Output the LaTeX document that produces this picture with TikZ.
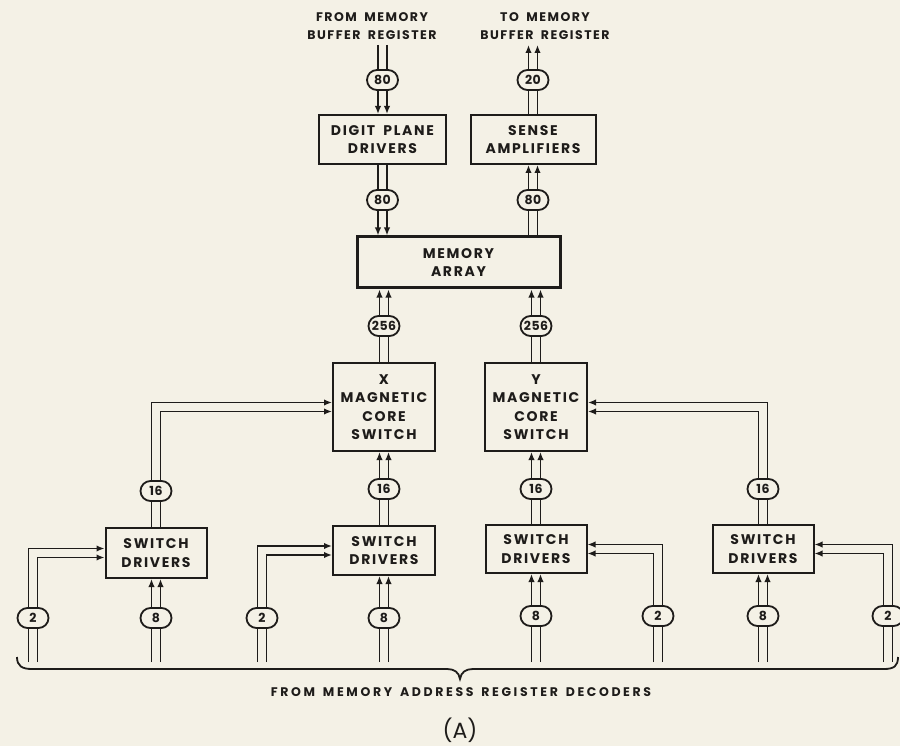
\documentclass[tikz,border=0pt]{standalone}
\usepackage{fontspec}
\newfontfamily\lbl[LetterSpace=12,WordSpace=1.8]{Poppins}
\newfontfamily\lblb[LetterSpace=4]{Poppins}
\newfontfamily\lblc[LetterSpace=21,WordSpace=1.5]{Poppins}
\usetikzlibrary{arrows.meta,shapes.misc}
\definecolor{bg}{RGB}{244,241,230}
\definecolor{ink}{RGB}{30,28,26}
\begin{document}
\begin{tikzpicture}[x=1pt,y=-1pt,
  box/.style={draw=ink,line width=2pt,fill=bg,align=center,inner sep=0pt,text=ink,
    font=\lbl\bfseries\fontsize{14}{18.5}\selectfont},
  lbltxt/.style={align=center,inner sep=0pt,text=ink,font=\lbl\bfseries\fontsize{12.5}{18}\selectfont},
  wire/.style={draw=ink,line width=1.8pt},
  arr/.style={wire,-{Latex[length=8pt,width=6.5pt]}},
  cnt/.style={rounded rectangle,draw=ink,line width=1.8pt,fill=bg,minimum width=33pt,
    minimum height=20pt,inner sep=1pt,text=ink,font=\lblb\bfseries\fontsize{12.5}{12}\selectfont}]
\fill[bg] (0,0) rectangle (900,746);
\useasboundingbox (0,0) rectangle (900,746);

% top labels
\node[lbltxt] (tfrom) at (372,26) {FROM MEMORY\\BUFFER REGISTER};
\node[lbltxt] (tto) at (545,26) {TO MEMORY\\BUFFER REGISTER};
\coordinate (fmbr) at (382.5,45);
\coordinate (tmbr) at (533,45);

% boxes
\node[box,minimum width=127,minimum height=49] (dpd) at (382.5,139.5) {DIGIT PLANE\\DRIVERS};
\node[box,minimum width=125,minimum height=49] (sa) at (533,139.5) {SENSE\\AMPLIFIERS};
\node[box,line width=3pt,minimum width=203,minimum height=51] (mem) at (458.5,262.5) {MEMORY\\ARRAY};
\node[box,minimum width=102,minimum height=88] (xs) at (384,407) {X\\MAGNETIC\\CORE\\SWITCH};
\node[box,minimum width=102,minimum height=88] (ys) at (536,407) {Y\\MAGNETIC\\CORE\\SWITCH};
\node[box,minimum width=101,minimum height=50] (sd1) at (156,553) {SWITCH\\DRIVERS};
\node[box,minimum width=102,minimum height=49] (sd2) at (384,550.5) {SWITCH\\DRIVERS};
\node[box,minimum width=101,minimum height=48] (sd3) at (536,549) {SWITCH\\DRIVERS};
\node[box,minimum width=101,minimum height=48] (sd4) at (763,549) {SWITCH\\DRIVERS};

% input free ends
\coordinate (in1a) at (33,662);
\coordinate (in1b) at (156,662);
\coordinate (in2a) at (262,662);
\coordinate (in2b) at (384,662);
\coordinate (in3b) at (536,662);
\coordinate (in3a) at (658,662);
\coordinate (in4b) at (763,662);
\coordinate (in4a) at (888,662);

% buses
\foreach \s in {-4.5,4.5}{
  \draw[arr] ([xshift=\s]fmbr) -- ([xshift=\s]dpd.north);
  \draw[arr] ([xshift=\s]dpd.south) -- ([xshift=\s]dpd.south |- mem.north);
  \draw[arr] ([xshift=\s]sa.south |- mem.north) -- ([xshift=\s]sa.south);
  \draw[arr] ([xshift=\s]sa.north) -- ([xshift=\s]tmbr);
  \draw[arr] ([xshift=\s]xs.north) -- ([xshift=\s]xs.north |- mem.south);
  \draw[arr] ([xshift=\s]ys.north) -- ([xshift=\s]ys.north |- mem.south);
  \draw[arr] ([xshift=\s]sd2.north) -- ([xshift=\s]xs.south);
  \draw[arr] ([xshift=\s]sd3.north) -- ([xshift=\s]ys.south);
  \draw[arr] ([xshift=\s]in1b) -- ([xshift=\s]sd1.south);
  \draw[arr] ([xshift=\s]in2b) -- ([xshift=\s]sd2.south);
  \draw[arr] ([xshift=\s]in3b) -- ([xshift=\s]sd3.south);
  \draw[arr] ([xshift=\s]in4b) -- ([xshift=\s]sd4.south);
  \draw[arr] ([xshift=\s]sd1.north) |- ([yshift=-\s]xs.west);
  \draw[arr] ([xshift=-\s]sd4.north) |- ([yshift=-\s]ys.east);
  \draw[arr] ([xshift=\s]in1a) |- ([yshift=-\s]sd1.west);
  \draw[arr] ([xshift=\s]in2a) |- ([yshift=-\s]sd2.west);
  \draw[arr] ([xshift=-\s]in3a) |- ([yshift=-\s]sd3.east);
  \draw[arr] ([xshift=-\s]in4a) |- ([yshift=-\s]sd4.east);
}

% counts
\node[cnt] (c1) at (382.5,80) {80};
\node[cnt] (c2) at (382.5,200) {80};
\node[cnt] (c3) at (533,200) {80};
\node[cnt] (c4) at (533,80) {20};
\node[cnt] (c5) at (384,326) {256};
\node[cnt] (c6) at (536,326) {256};
\node[cnt] (c7) at (156,491) {16};
\node[cnt] (c8) at (384,489) {16};
\node[cnt] (c9) at (536,489) {16};
\node[cnt] (c10) at (763,489) {16};
\node[cnt] (c11) at (33,618) {2};
\node[cnt] (c12) at (156,618) {8};
\node[cnt] (c13) at (262,618) {2};
\node[cnt] (c14) at (384,618) {8};
\node[cnt] (c15) at (536,616) {8};
\node[cnt] (c16) at (658,616) {2};
\node[cnt] (c17) at (763,616) {8};
\node[cnt] (c18) at (888,616) {2};

% brace
\draw[wire] (17,657) .. controls (17,666) and (22,669) .. (32,669) -- (447,669)
  .. controls (454,669) and (459,672) .. (460,679)
  .. controls (461,672) and (466,669) .. (473,669) -- (884,669)
  .. controls (894,669) and (898,666) .. (898,657);

\node[align=center,inner sep=0pt,text=ink,font=\lblc\bfseries\fontsize{12.5}{12}\selectfont] (dec) at (461,692) {FROM MEMORY ADDRESS REGISTER DECODERS};
\node[inner sep=0pt,text=ink,font=\fontspec{Poppins}\fontsize{22}{24}\selectfont] (cap) at (460,730) {(A)};
\end{tikzpicture}
\end{document}
